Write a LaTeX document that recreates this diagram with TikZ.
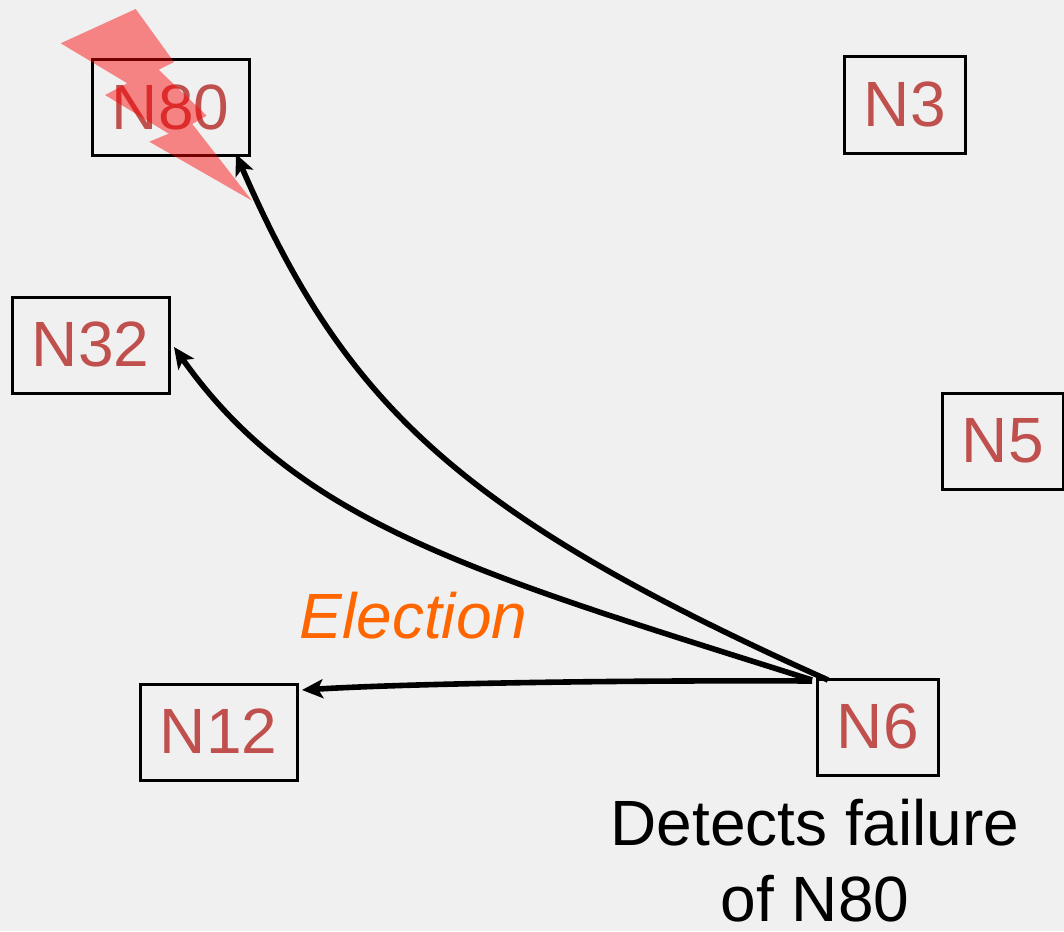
\documentclass[tikz,border=0pt]{standalone}
\usepackage{fontspec}
\setmainfont{Liberation Sans}
\usetikzlibrary{arrows.meta}
\definecolor{bg}{HTML}{F0F0F0}
\definecolor{nodetxt}{HTML}{C0504D}
\definecolor{elect}{HTML}{FF6600}
\definecolor{boltc}{HTML}{FF0000}
\tikzset{
  nodebox/.style={draw=black,line width=3pt,rectangle,inner sep=0pt,text=nodetxt,font=\fontsize{64}{64}\selectfont,text height=46pt,text depth=3pt,anchor=center},
  msg/.style={draw=black,line width=5.6pt,-{Stealth[length=21pt,width=19pt,inset=5pt]}},
}
\begin{document}
\begin{tikzpicture}[x=1pt,y=-1pt]
\path[use as bounding box,fill=bg] (0,0) rectangle (1064,931);
\node[nodebox,minimum width=157pt,minimum height=96pt] (n80) at (170.7,107.5) {N80};
\node[nodebox,minimum width=121pt,minimum height=96pt] (n3) at (904.7,105) {N3};
\node[nodebox,minimum width=157pt,minimum height=96pt] (n32) at (90.7,345) {N32};
\node[nodebox,minimum width=121pt,minimum height=96pt] (n5) at (1002.7,441) {N5};
\node[nodebox,minimum width=157pt,minimum height=96pt] (n12) at (218.7,732) {N12};
\node[nodebox,minimum width=121pt,minimum height=96pt] (n6) at (877.7,727) {N6};
\fill[boltc,fill opacity=0.45] (135.7,9) -- (174,62) -- (158.7,69.7) -- (206.7,115.7) -- (192.3,124) -- (252,200.7) -- (149.3,141.7) -- (168.7,133.7) -- (105,95) -- (127.3,83.3) -- (60.7,43.3) -- cycle;
\coordinate (s1) at (828,680);
\coordinate (s2) at (812,680);
\coordinate (s3) at (812,681);
\coordinate (e1) at (236,154);
\coordinate (e2) at (174,347);
\coordinate (e3) at (302,690);
\draw[msg] (s1) .. controls (460,515) and (345,405) .. (e1);
\draw[msg] (s2) .. controls (480,575) and (300,525) .. (e2);
\draw[msg] (s3) .. controls (600,680) and (400,684) .. (e3);
\node[text=elect,font=\fontsize{64}{64}\selectfont\itshape] (el) at (413.5,616) {Election};
\node[text=black,font=\fontsize{64}{76}\selectfont,align=center,anchor=north] (det) at (815,796) {Detects failure\\of N80};
\end{tikzpicture}
\end{document}
